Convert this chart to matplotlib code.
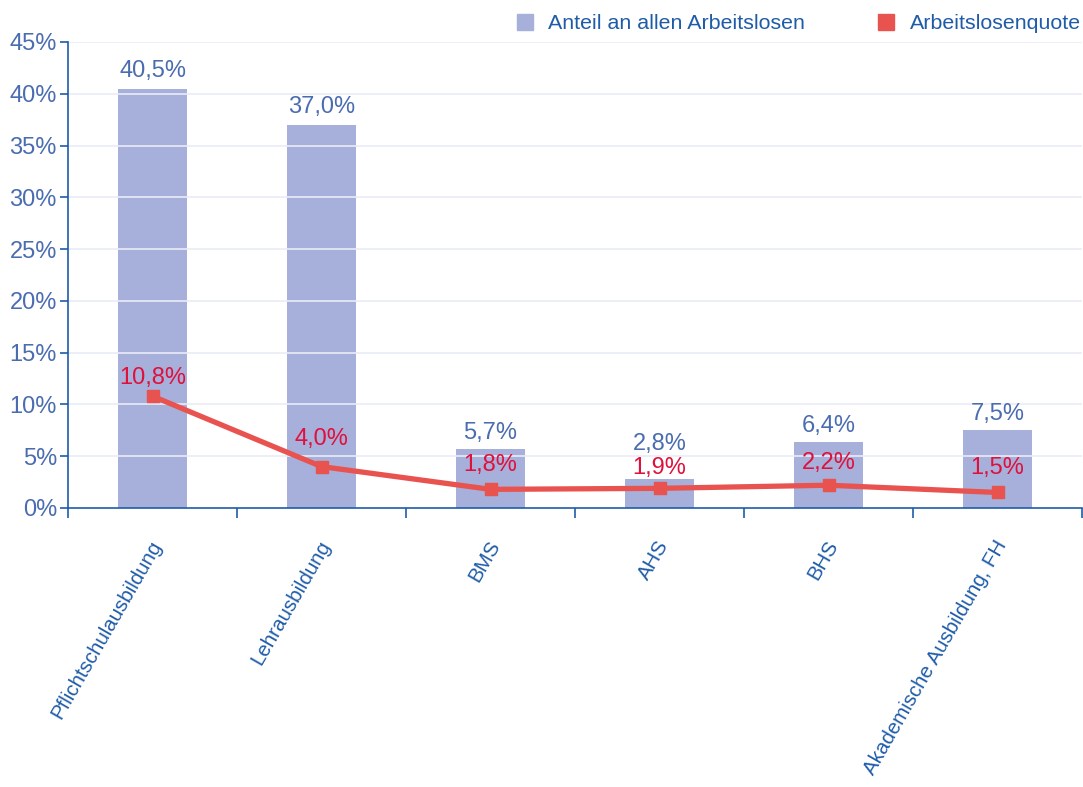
import matplotlib
matplotlib.use("Agg")
import matplotlib.pyplot as plt
from matplotlib.lines import Line2D
import numpy as np

plt.rcParams['font.family'] = ['Liberation Sans', 'DejaVu Sans']

categories = ["Pflichtschulausbildung", "Lehrausbildung", "BMS", "AHS", "BHS",
              "Akademische Ausbildung, FH"]
anteil = [40.5, 37.0, 5.7, 2.8, 6.4, 7.5]
quote = [10.8, 4.0, 1.8, 1.9, 2.2, 1.5]
anteil_labels = ["40,5%", "37,0%", "5,7%", "2,8%", "6,4%", "7,5%"]
quote_labels = ["10,8%", "4,0%", "1,8%", "1,9%", "2,2%", "1,5%"]
yticks = [0, 5, 10, 15, 20, 25, 30, 35, 40, 45]
series_names = ["Anteil an allen Arbeitslosen", "Arbeitslosenquote"]

# label centre offsets in pixels (layout only)
bar_lbl_off = [18, 18, 16, 35, 16, 16]
line_lbl_off = [18, 28, 24, 20, 22, 24]

BAR_C = "#a6b0da"
LINE_C = "#e9534f"
LBL_RED = "#e0103c"
TXT_BLUE = "#4a6cb0"
DARK_BLUE = "#1f5ca8"
GRID_C = "#e9ebf7"

fig = plt.figure(figsize=(10.83, 7.87), dpi=100)
ax = fig.add_axes([68/1083, 1-508/787, (1082-68)/1083, (508-42)/787])

x = np.arange(len(categories))
ax.bar(x, anteil, width=0.41, color=BAR_C, zorder=1)
for y in yticks[1:]:
    ax.axhline(y, color=GRID_C, lw=1.2, zorder=2)
ax.plot(x, quote, color=LINE_C, lw=3.8, marker='s', ms=9, zorder=3)

for xi, v, t, o in zip(x, anteil, anteil_labels, bar_lbl_off):
    ax.annotate(t, (xi, v), xytext=(0, o), textcoords='offset pixels',
                ha='center', va='center', color=TXT_BLUE, fontsize=17, zorder=4)
for xi, v, t, o in zip(x, quote, quote_labels, line_lbl_off):
    ax.annotate(t, (xi, v), xytext=(0, o), textcoords='offset pixels',
                ha='center', va='center', color=LBL_RED, fontsize=17, zorder=4)

ax.set_xlim(-0.5, len(categories) - 0.5)
ax.set_ylim(0, 45)
ax.set_yticks(yticks)
ax.set_yticklabels([f"{v}%" for v in yticks], fontsize=17)
ax.tick_params(axis='y', colors=DARK_BLUE, labelcolor=TXT_BLUE, length=6, width=1.2, pad=2)

ax.set_xticks(x - 0.02)
ax.set_xticklabels(categories, rotation=60, ha='right', va='top',
                   rotation_mode='anchor', color=DARK_BLUE, fontsize=14.8)
ax.tick_params(axis='x', which='major', length=0, pad=21)
ax.set_xticks(np.arange(-0.5, len(categories)), minor=True)
ax.tick_params(axis='x', which='minor', length=7, width=1.2, colors=DARK_BLUE)

for s in ['top', 'right']:
    ax.spines[s].set_visible(False)
for s in ['left', 'bottom']:
    ax.spines[s].set_color(DARK_BLUE)
    ax.spines[s].set_linewidth(1.2)

handles = [Line2D([], [], marker='s', ls='none', color=BAR_C, ms=12),
           Line2D([], [], marker='s', ls='none', color=LINE_C, ms=12)]
leg = fig.legend(handles, series_names, loc='upper right', ncol=2,
                 bbox_to_anchor=(1.003, 0.989), frameon=False, fontsize=15.4,
                 handlelength=0.8, handletextpad=0.7, columnspacing=3.4,
                 borderaxespad=0.0, borderpad=0.25)
for t in leg.get_texts():
    t.set_color(DARK_BLUE)

fig.savefig("out.png", dpi=100)
